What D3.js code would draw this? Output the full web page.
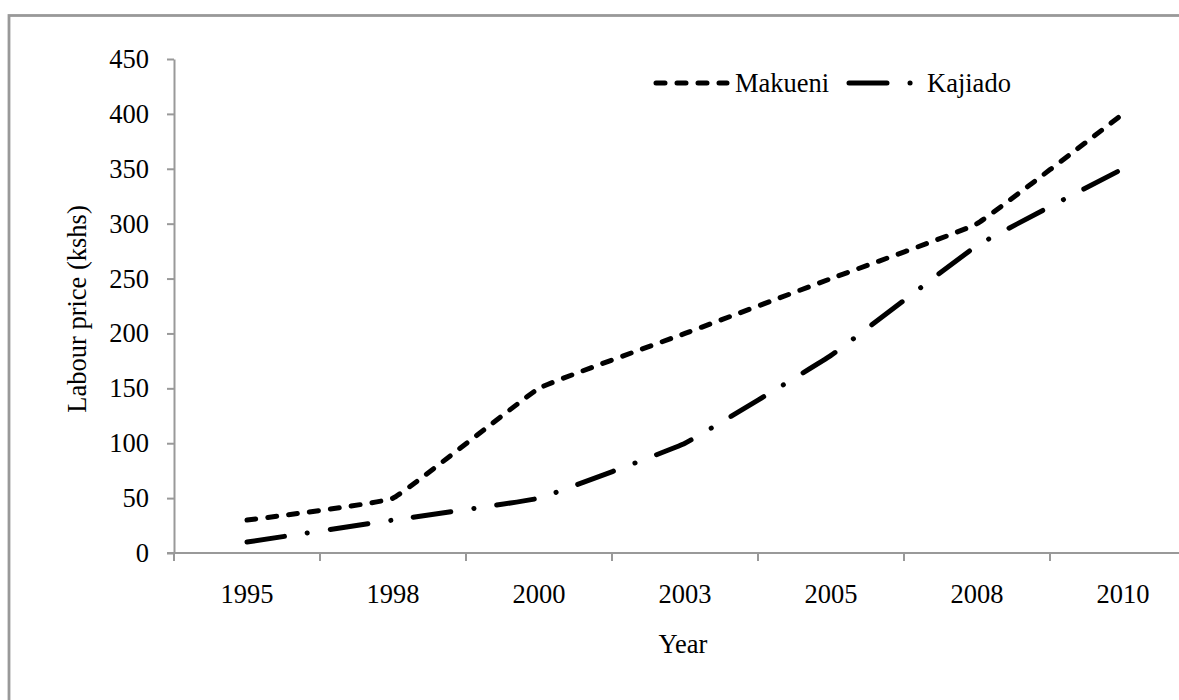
<!DOCTYPE html>
<html>
<head>
<meta charset="utf-8">
<script src="https://cdn.jsdelivr.net/npm/d3@7"></script>
<style>
  body { margin: 0; background: #fff; }
  text { font-family: "Liberation Serif", "Times New Roman", serif; fill: #000; }
</style>
</head>
<body>
<div class="canvas"></div>
<script>
// data
const years = ['1995', '1998', '2000', '2003', '2005', '2008', '2010'];
const makueni = [30, 50, 150, 200, 250, 300, 400];
const kajiado = [10, 30, 50, 100, 180, 280, 350];
const yTicks = [0, 50, 100, 150, 200, 250, 300, 350, 400, 450];

const size = { width: 1179, height: 700 };
const plot = { left: 174, top: 59, bottom: 553, band: 146 };
const axisGrey = '#999';
const fontSize = 26.5;

// create svg container
const svg = d3.select('.canvas')
  .append('svg')
  .attr('width', size.width)
  .attr('height', size.height);

// outer frame (runs off the right and bottom edge in the original)
svg.append('rect')
  .attr('x', 9)
  .attr('y', 15.5)
  .attr('width', 1400)
  .attr('height', 1000)
  .attr('fill', 'none')
  .attr('stroke', axisGrey)
  .attr('stroke-width', 2.8);

// scales
const x = d3.scaleBand()
  .domain(years)
  .range([plot.left, plot.left + plot.band * years.length])
  .padding(0);

const y = d3.scaleLinear()
  .domain([0, 450])
  .range([plot.bottom, plot.top]);

const xMid = d => x(d) + x.bandwidth() / 2;

// y axis
const yAxis = d3.axisLeft(y)
  .tickValues(yTicks)
  .tickSize(7)
  .tickSizeOuter(0)
  .tickPadding(18);

const yAxisGroup = svg.append('g')
  .attr('transform', `translate(${plot.left}, 0)`)
  .call(yAxis);

yAxisGroup.select('.domain').attr('stroke', axisGrey).attr('stroke-width', 2);
yAxisGroup.selectAll('.tick line').attr('stroke', axisGrey).attr('stroke-width', 2);
yAxisGroup.selectAll('.tick text')
  .attr('font-size', fontSize)
  .attr('font-family', '"Liberation Serif", serif')
  .attr('fill', '#000');

// x axis - labels in band centres, ticks on band edges
const xAxisGroup = svg.append('g')
  .attr('transform', `translate(0, ${plot.bottom})`);

xAxisGroup.append('line')
  .attr('x1', plot.left - 7)
  .attr('x2', size.width + 20)
  .attr('stroke', axisGrey)
  .attr('stroke-width', 2);

xAxisGroup.selectAll('line.tick')
  .data(years)
  .enter()
  .append('line')
    .attr('class', 'tick')
    .attr('x1', d => x(d))
    .attr('x2', d => x(d))
    .attr('y1', 0)
    .attr('y2', 8)
    .attr('stroke', axisGrey)
    .attr('stroke-width', 2);

xAxisGroup.selectAll('text')
  .data(years)
  .enter()
  .append('text')
    .attr('x', xMid)
    .attr('y', 50)
    .attr('text-anchor', 'middle')
    .attr('font-size', fontSize)
    .text(d => d);

// axis titles
svg.append('text')
  .attr('x', 683)
  .attr('y', 653)
  .attr('text-anchor', 'middle')
  .attr('font-size', fontSize)
  .text('Year');

svg.append('text')
  .attr('transform', `translate(86, ${(plot.top + plot.bottom) / 2 + 3}) rotate(-90)`)
  .attr('text-anchor', 'middle')
  .attr('font-size', fontSize)
  .text('Labour price (kshs)');

// line generator, only lightly smoothed like the original
const line = d3.line()
  .x((d, i) => xMid(years[i]))
  .y(d => y(d))
  .curve(d3.curveCardinal.tension(0.75));

const series = [
  { name: 'Makueni', values: makueni, dash: '9,12' },
  { name: 'Kajiado', values: kajiado, dash: '38,23,0.1,23' }
];

svg.selectAll('path.series')
  .data(series)
  .enter()
  .append('path')
    .attr('class', 'series')
    .attr('d', d => line(d.values))
    .attr('fill', 'none')
    .attr('stroke', '#000')
    .attr('stroke-width', 5)
    .attr('stroke-linecap', 'round')
    .attr('stroke-dasharray', d => d.dash);

// legend
const legendPos = [{ x: 656, y: 83 }, { x: 849, y: 83 }];

const legend = svg.selectAll('g.legend')
  .data(series)
  .enter()
  .append('g')
    .attr('class', 'legend')
    .attr('transform', (d, i) => `translate(${legendPos[i].x}, ${legendPos[i].y})`);

legend.append('line')
  .attr('x1', 0)
  .attr('x2', 71)
  .attr('stroke', '#000')
  .attr('stroke-width', 5)
  .attr('stroke-linecap', 'round')
  .attr('stroke-dasharray', d => d.dash);

legend.append('text')
  .attr('x', (d, i) => i === 0 ? 79 : 78)
  .attr('y', 9)
  .attr('font-size', fontSize)
  .text(d => d.name);
</script>
</body>
</html>
